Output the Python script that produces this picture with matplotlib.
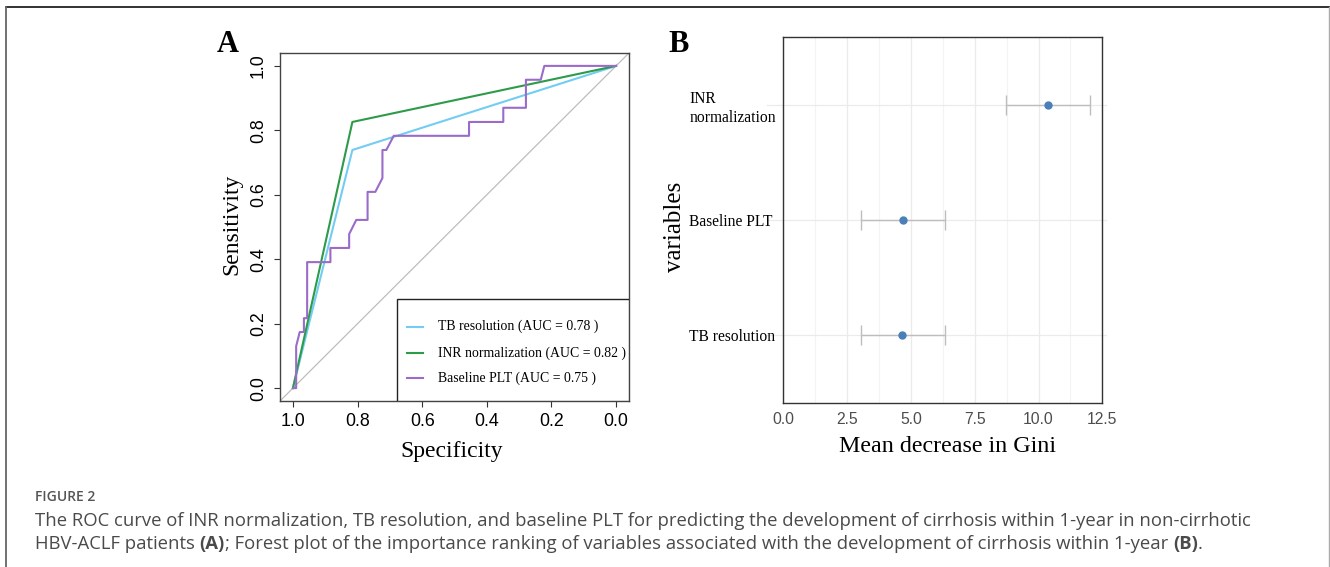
import matplotlib
matplotlib.use("Agg")
import matplotlib.pyplot as plt
from matplotlib.lines import Line2D
from matplotlib.patches import Rectangle

plt.rcParams['font.family'] = ['Liberation Serif', 'DejaVu Serif']

# ROC curves (panel A)
roc_names = ['TB resolution', 'INR normalization', 'Baseline PLT']
roc_auc = [0.78, 0.82, 0.75]
roc_colors = ['#72CDF0', '#2E9B4A', '#9A6BC9']
tb_spec = [1.0, 0.816, 0.0]
tb_sens = [0.0, 0.739, 1.0]
inr_spec = [1.0, 0.816, 0.0]
inr_sens = [0.0, 0.826, 1.0]
plt_spec = [1.0, 0.99, 0.99, 0.979, 0.966, 0.966, 0.956, 0.956, 0.884, 0.884,
            0.826, 0.826, 0.804, 0.769, 0.769, 0.745, 0.723, 0.723, 0.711, 0.688,
            0.455, 0.455, 0.349, 0.349, 0.279, 0.279, 0.233, 0.222, 0.0]
plt_sens = [0.0, 0.0, 0.130, 0.174, 0.174, 0.217, 0.217, 0.391, 0.391, 0.435,
            0.435, 0.478, 0.522, 0.522, 0.609, 0.609, 0.652, 0.739, 0.739, 0.783,
            0.783, 0.826, 0.826, 0.870, 0.870, 0.957, 0.957, 1.0, 1.0]
roc_ticks = [1.0, 0.8, 0.6, 0.4, 0.2, 0.0]

# variable importance (panel B)
variables = ['TB resolution', 'Baseline PLT', 'INR\nnormalization']
gini_mean = [4.67, 4.69, 10.38]
gini_low = [3.03, 3.05, 8.74]
gini_high = [6.33, 6.35, 12.03]
gini_ticks = [0.0, 2.5, 5.0, 7.5, 10.0, 12.5]

caption_head = 'FIGURE 2'
caption_line1 = [('The ROC curve of INR normalization, TB resolution, and baseline PLT for predicting '
                  'the development of cirrhosis within 1-year in non-cirrhotic', False)]
caption_line2 = [('HBV-ACLF patients ', False), ('(A)', True),
                 ('; Forest plot of the importance ranking of variables associated with the '
                  'development of cirrhosis within 1-year ', False), ('(B)', True), ('.', False)]

W, H = 1330, 567
fig = plt.figure(figsize=(W / 100, H / 100), dpi=100)


def fx(px):
    return px / W


def fy(py):
    return 1 - py / H


# ---------- panel A ----------
axA = fig.add_axes([fx(280), fy(401), fx(629) - fx(280), fy(53) - fy(401)])
axA.set_xlim(1.04, -0.04)
axA.set_ylim(-0.04, 1.04)
axA.plot([1.04, -0.04], [-0.04, 1.04], color='#BDBDBD', lw=0.9, zorder=1)
curves = [(tb_spec, tb_sens), (inr_spec, inr_sens), (plt_spec, plt_sens)]
for (sx, sy), c in zip(curves, roc_colors):
    axA.plot(sx, sy, color=c, lw=1.5, zorder=2)
axA.set_xticks(roc_ticks)
axA.set_yticks(roc_ticks)
axA.set_xticklabels(['%.1f' % t for t in roc_ticks], family='Liberation Sans', fontsize=12.8)
axA.set_yticklabels(['%.1f' % t for t in roc_ticks], family='Liberation Sans', fontsize=12.8,
                    rotation=90, va='center')
axA.tick_params(axis='x', length=4, width=0.8, pad=5, color='#333333')
axA.tick_params(axis='y', length=4, width=0.8, pad=5.5, color='#333333')
for s in axA.spines.values():
    s.set_color('#444444')
    s.set_linewidth(1.0)

# legend box like R's
leg_x0, leg_top = 0.3344, 0.2922
axA.add_patch(Rectangle((leg_x0, 0), 1 - leg_x0, leg_top, transform=axA.transAxes,
                        facecolor='white', edgecolor='#222222', lw=1.0, zorder=5))
leg_rows = [0.2135, 0.137, 0.0652]
for name, auc, c, ry in zip(roc_names, roc_auc, roc_colors, leg_rows):
    axA.add_line(Line2D([0.363, 0.409], [ry, ry], transform=axA.transAxes,
                        color=c, lw=1.5, zorder=6))
    axA.text(0.4527, ry, '%s (AUC = %.2f )' % (name, auc), transform=axA.transAxes,
             fontsize=9.9, va='center', ha='left', zorder=6)

fig.text(fx(451.7), fy(451.7), 'Specificity', fontsize=17, ha='center', va='center')
fig.text(fx(231.7), fy(224), 'Sensitivity', fontsize=17, ha='center', va='center', rotation=90)
fig.text(fx(228), fy(45), 'A', fontsize=22, fontweight='bold', ha='center', va='center')

# ---------- panel B ----------
axB = fig.add_axes([fx(783.3), fy(403.3), fx(1102.3) - fx(783.3), fy(36.7) - fy(403.3)])
axB.set_xlim(0, 12.5)
axB.set_ylim(0.4, 3.6)
ypos = list(range(1, len(variables) + 1))
for x in [1.25, 3.75, 6.25, 8.75, 11.25]:
    axB.axvline(x, color='#F3F3F3', lw=0.8, zorder=0)
for x in gini_ticks:
    axB.axvline(x, color='#EBEBEB', lw=0.9, zorder=0)
for y in ypos:
    axB.plot([-0.63, 12.64], [y, y], color='#EBEBEB', lw=0.9, clip_on=False, zorder=0)
axB.errorbar(gini_mean, ypos, xerr=[[m - l for m, l in zip(gini_mean, gini_low)],
                                    [h - m for m, h in zip(gini_mean, gini_high)]],
             fmt='none', ecolor='#BDBDBD', elinewidth=1.0, capsize=7.5, capthick=1.0, zorder=2)
axB.plot(gini_mean, ypos, 'o', color='#4A7FB8', markersize=5, zorder=3)
axB.set_xticks(gini_ticks)
axB.set_xticklabels(['%.1f' % t for t in gini_ticks], family='Liberation Sans',
                    fontsize=11.3, color='#4D4D4D')
axB.set_yticks(ypos)
axB.set_yticklabels(variables, fontsize=11.2, ha='left', multialignment='left', linespacing=1.2)
axB.tick_params(axis='x', length=0, pad=6)
axB.tick_params(axis='y', length=0, pad=94 * 0.72)
for s in axB.spines.values():
    s.set_color('#333333')
    s.set_linewidth(1.0)

fig.text(fx(947.3), fy(446.7), 'Mean decrease in Gini', fontsize=17.3, ha='center', va='center')
fig.text(fx(675), fy(226.7), 'variables', fontsize=18, ha='center', va='center', rotation=90)
fig.text(fx(678.3), fy(45), 'B', fontsize=22, fontweight='bold', ha='center', va='center')

# ---------- frame and caption ----------
fig.add_artist(Line2D([fx(6), fx(1330)], [fy(7), fy(7)], color='#222222', lw=1.3))
fig.add_artist(Line2D([fx(6), fx(6)], [fy(7), 0], color='#666666', lw=1.3))
fig.add_artist(Line2D([fx(1329), fx(1329)], [fy(7), 0], color='#AAAAAA', lw=1.0))

cap_font = ['Open Sans', 'DejaVu Sans']
fig.text(fx(35), fy(497), caption_head, family=cap_font, fontsize=10, fontweight='semibold',
         color='#555555', va='center', ha='left')

renderer = fig.canvas.get_renderer()
probe = fig.text(0, 0, caption_line1[0][0], family=cap_font, fontsize=12)
cap_size = 12 * 1207 / probe.get_window_extent(renderer).width
probe.remove()


def draw_line(parts, y):
    x = fx(35)
    for txt, bold in parts:
        t = fig.text(x, fy(y), txt, family=cap_font, fontsize=cap_size, color='#4A4A4A',
                     fontweight='bold' if bold else 'normal', va='center', ha='left')
        ext = t.get_window_extent(renderer)
        x = fig.transFigure.inverted().transform((ext.x1, 0))[0]


draw_line(caption_line1, 521)
draw_line(caption_line2, 544)

fig.savefig('out.png', dpi=100)
